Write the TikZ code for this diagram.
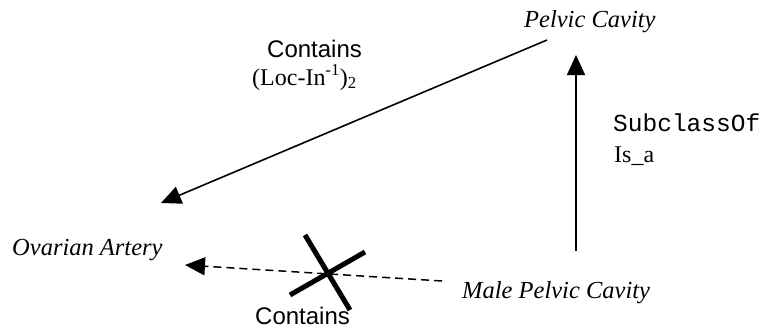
\documentclass[tikz,border=0pt]{standalone}
\usepackage{fontspec}
\usetikzlibrary{arrows.meta}
\newfontfamily\lblserif{Liberation Serif}
\newfontfamily\lblsf{Liberation Sans}
\newfontfamily\lbltt{Liberation Mono}
\begin{document}
\begin{tikzpicture}[x=1pt,y=-1pt,
  concept/.style={anchor=base west,inner sep=0pt,font=\lblserif\itshape\fontsize{24.5}{28}\selectfont},
  rellbl/.style={anchor=base west,inner sep=0pt,font=\lblsf\fontsize{24}{28}\selectfont},
  serlbl/.style={anchor=base west,inner sep=0pt,font=\lblserif\fontsize{24}{28}\selectfont},
  ttlbl/.style={anchor=base west,inner sep=0pt,font=\lbltt\fontsize{24.5}{28}\selectfont},
  rel/.style={line width=1.6pt,-{Triangle[length=20pt,width=18pt]}},
  negrel/.style={line width=1.5pt,dash pattern=on 8pt off 5pt,-{Triangle[length=20pt,width=18pt]}},
  crossline/.style={line width=5pt}]
\useasboundingbox (0,0) rectangle (762,329);
\node[concept] (pc) at (524,28) {Pelvic Cavity};
\node[concept] (oa) at (12,255) {Ovarian Artery};
\node[concept] (mpc) at (462,298) {Male Pelvic Cavity};
\node[rellbl] (c1) at (267,58) {Contains};
\node[serlbl] (loc) at (252,85) {(Loc-In\textsuperscript{-1})\textsubscript{2}};
\node[ttlbl] (sub) at (613,131) {SubclassOf};
\node[serlbl] (isa) at (614,162) {Is\_a};
\node[rellbl] (c2) at (255,324) {Contains};
% connector end points
\coordinate (pcL) at (547,40);
\coordinate (pcB) at (576,55);
\coordinate (oaT) at (161,203);
\coordinate (oaR) at (185,265);
\coordinate (mpcT) at (576,251);
\coordinate (mpcL) at (442,281);
\draw[rel] (pcL) -- (oaT);
\draw[rel] (mpcT) -- (pcB);
\draw[negrel] (mpcL) -- (oaR);
% cross
\coordinate (x1a) at (305,235);
\coordinate (x1b) at (350,310);
\coordinate (x2a) at (365,252);
\coordinate (x2b) at (290,295);
\draw[crossline] (x1a) -- (x1b);
\draw[crossline] (x2a) -- (x2b);
\end{tikzpicture}
\end{document}
